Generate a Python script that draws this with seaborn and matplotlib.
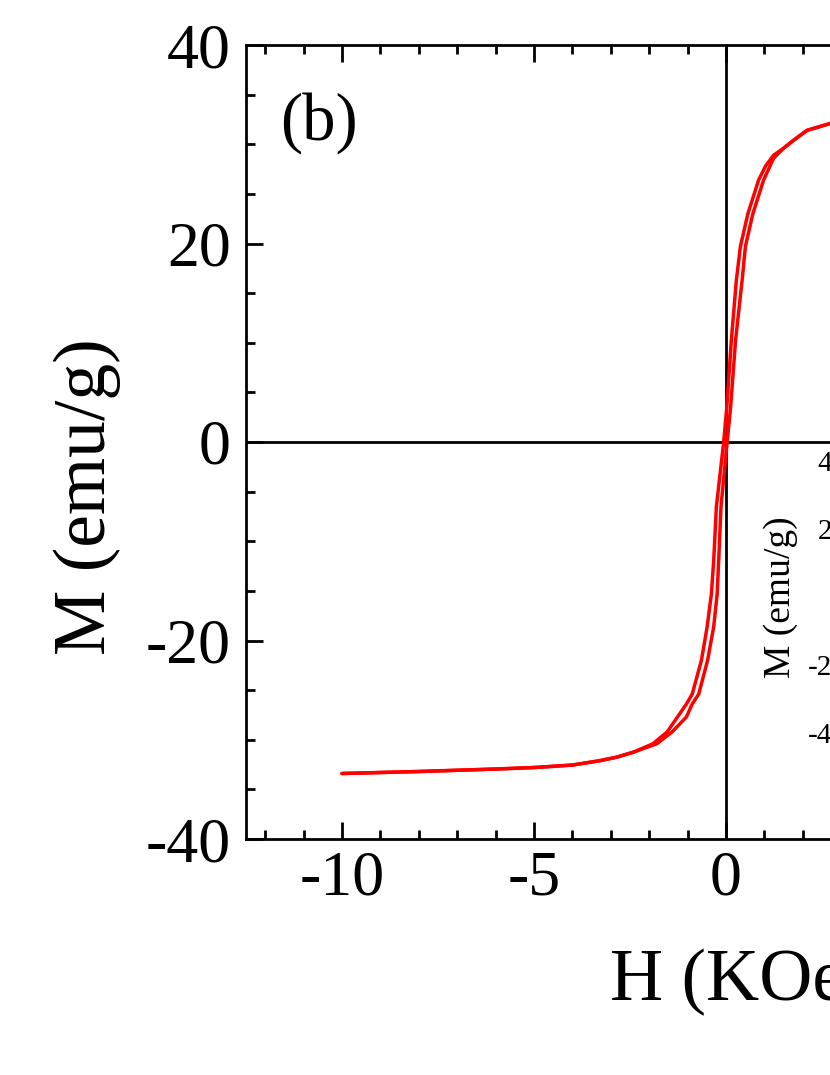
import numpy as np
import pandas as pd
import matplotlib
matplotlib.use("Agg")
import matplotlib.pyplot as plt
import seaborn as sns
from matplotlib.ticker import MultipleLocator

# Descending branch (H from +10 to -10)
H_desc = [10, 8, 6, 5, 4, 3, 2.72, 2.11, 1.76, 1.5, 1.24, 1.03, 0.85, 0.57, 0.375, 0.27,
          0.14, 0.02, -0.06, -0.25, -0.32, -0.38, -0.49, -0.64, -0.88, -1.03, -1.53,
          -1.9, -2.41, -2.84, -3.27, -4.0, -5.0, -6.0, -8.0, -10]
M_desc = [33.4, 33.2, 32.95, 32.8, 32.55, 32.2, 32.1, 31.4, 30.4, 29.6, 28.9, 27.8, 26.4,
          23.0, 19.7, 16.3, 10.3, 3.5, 0.0, -6.5, -11.9, -15.3, -18.6, -22.0, -25.4,
          -26.4, -29.2, -30.4, -31.25, -31.75, -32.1, -32.55, -32.8, -32.95, -33.2, -33.4]
# Ascending branch (H from -10 to +10)
H_asc = [-10, -8, -6, -5, -4, -3.27, -2.84, -2.41, -1.8, -1.40, -1.03, -0.88, -0.71,
         -0.48, -0.32, -0.23, -0.19, -0.13, 0.03, 0.12, 0.25, 0.42, 0.505, 0.70, 0.98,
         1.24, 1.5, 1.76, 2.11, 2.72, 3, 4, 5, 6, 8, 10]
M_asc = [-33.4, -33.2, -32.95, -32.8, -32.55, -32.1, -31.75, -31.25, -30.4, -29.2, -27.7,
         -26.4, -25.4, -22.0, -18.6, -15.3, -11.9, -6.5, 0.0, 3.5, 10.3, 16.3, 19.7, 23.0,
         26.4, 28.6, 29.6, 30.4, 31.4, 32.1, 32.2, 32.55, 32.8, 32.95, 33.2, 33.4]

x_ticks = [-10, -5, 0, 5, 10]
y_ticks = [-40, -20, 0, 20, 40]
inset_y_ticks = [-40, -20, 0, 20, 40]

df = pd.concat([
    pd.DataFrame({"H": H_desc, "M": M_desc, "branch": "desc"}),
    pd.DataFrame({"H": H_asc, "M": M_asc, "branch": "asc"}),
], ignore_index=True)

sns.set_theme(style="ticks")
plt.rcParams["font.family"] = ["Liberation Serif", "DejaVu Serif"]
plt.rcParams["axes.unicode_minus"] = False
plt.rcParams["text.color"] = "black"
plt.rcParams["axes.labelcolor"] = "black"
plt.rcParams["xtick.color"] = "black"
plt.rcParams["ytick.color"] = "black"

W, H = 830, 1075
fig = plt.figure(figsize=(W / 100, H / 100), dpi=100)
fig.patch.set_facecolor("white")

# main axes (extends past the right edge as in the cropped reference)
ax_l, ax_r, ax_t, ax_b = 246, 1206, 45, 839
ax = fig.add_axes([ax_l / W, (H - ax_b) / H, (ax_r - ax_l) / W, (ax_b - ax_t) / H])

ax.axhline(0, color="black", lw=2.0, zorder=1)
ax.axvline(0, color="black", lw=2.0, zorder=1)
sns.lineplot(data=df, x="H", y="M", units="branch", estimator=None, sort=False,
             color="#ff0000", lw=2.5, ax=ax, legend=False, zorder=3)

ax.set_xlim(-12.5, 12.5)
ax.set_ylim(-40, 40)
ax.set_xticks(x_ticks)
ax.set_yticks(y_ticks)
ax.set_xticklabels([str(v) for v in x_ticks])
ax.set_yticklabels([str(v) for v in y_ticks])
ax.xaxis.set_minor_locator(MultipleLocator(1))
ax.yaxis.set_minor_locator(MultipleLocator(5))
ax.tick_params(which="both", direction="in", top=True, right=True, color="black",
               width=2.0)
ax.tick_params(which="major", length=12)
ax.tick_params(which="minor", length=6.5)
ax.tick_params(axis="x", which="major", labelsize=46, pad=8, labelcolor="black")
ax.tick_params(axis="y", which="major", labelsize=46, pad=11, labelcolor="black")
for sp in ax.spines.values():
    sp.set_linewidth(2.0)
    sp.set_color("black")

ax.set_xlabel("H (KOe)", fontsize=53, color="black", va="baseline")
ax.xaxis.set_label_coords((739.5 - ax_l) / (ax_r - ax_l), (ax_b - 1000) / (ax_b - ax_t))
ax.set_ylabel("M (emu/g)", fontsize=53, color="black", va="center")
ax.yaxis.set_label_coords((87 - ax_l) / (ax_r - ax_l), (ax_b - 497) / (ax_b - ax_t))

ax.text((280 - ax_l) / (ax_r - ax_l), (ax_b - 140) / (ax_b - ax_t), "(b)",
        transform=ax.transAxes, ha="left", va="baseline", fontsize=48, color="black")

# inset (mostly outside the visible crop)
in_l, in_r, in_t, in_b = 852, 1150, 444, 750
axi = fig.add_axes([in_l / W, (H - in_b) / H, (in_r - in_l) / W, (in_b - in_t) / H])
sns.lineplot(data=df, x="H", y="M", units="branch", estimator=None, sort=False,
             color="#ff0000", lw=1.5, ax=axi, legend=False)
axi.set_xlim(-1.0, 1.0)
axi.set_ylim(-45, 45)
axi.set_yticks(inset_y_ticks)
axi.set_yticklabels([str(v) for v in inset_y_ticks])
axi.tick_params(which="both", direction="in", top=True, right=True, width=1.2,
                color="black")
axi.tick_params(axis="y", labelsize=21, pad=4, labelcolor="black")
axi.tick_params(axis="x", labelsize=21, labelcolor="black")
axi.set_xlabel("H (KOe)", fontsize=27, color="black")
axi.set_ylabel("M (emu/g)", fontsize=27, va="center", color="black")
axi.yaxis.set_label_coords((781 - in_l) / (in_r - in_l), 0.5)

fig.savefig("out.png", dpi=100, facecolor="white")
